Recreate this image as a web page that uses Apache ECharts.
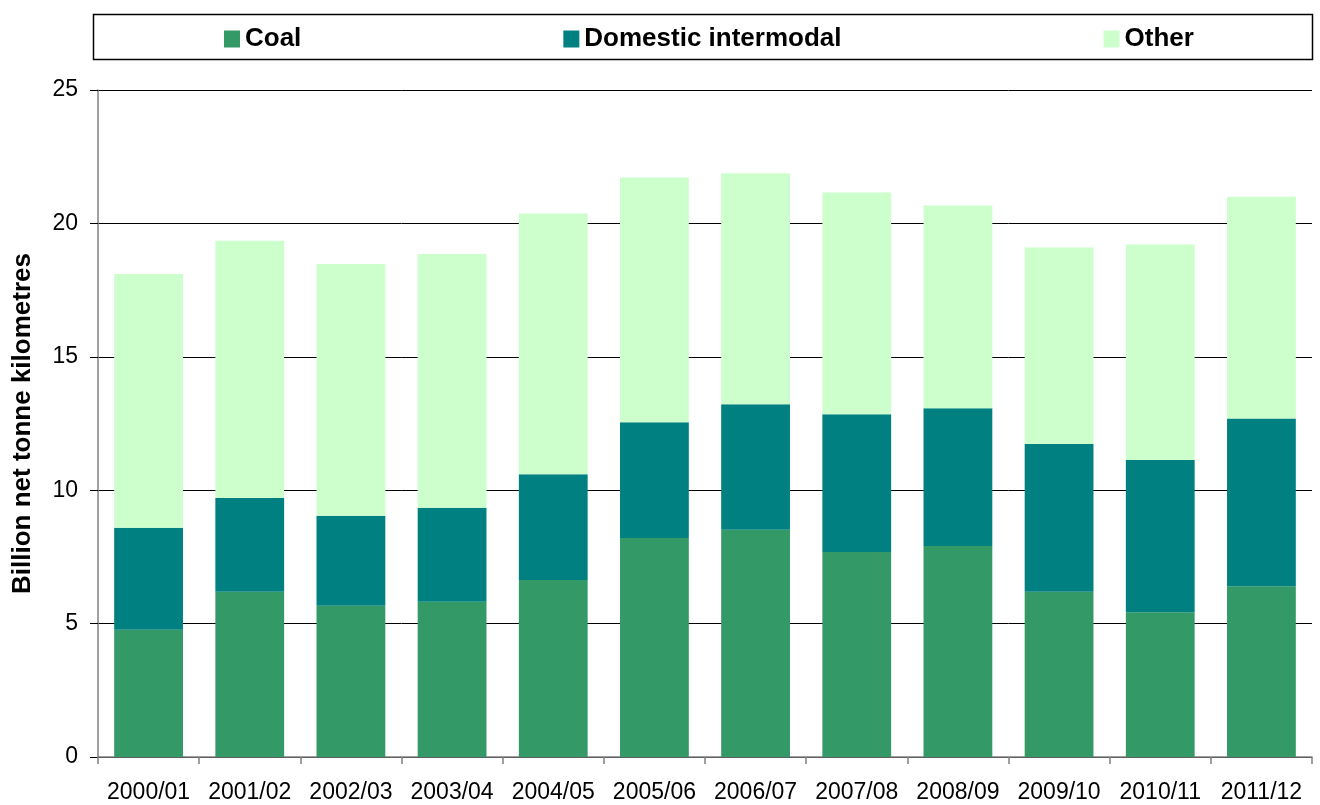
<!DOCTYPE html>
<html>
<head>
<meta charset="utf-8">
<script src="https://cdn.jsdelivr.net/npm/echarts@6/dist/echarts.min.js"></script>
<style>
  html, body { margin: 0; padding: 0; background: #fff; }
  #chart { width: 1320px; height: 805px; }
</style>
</head>
<body>
<div id="chart"></div>
<script>
const years = ["2000/01", "2001/02", "2002/03", "2003/04", "2004/05", "2005/06",
  "2006/07", "2007/08", "2008/09", "2009/10", "2010/11", "2011/12"];
const coal = [4.77, 6.19, 5.67, 5.82, 6.63, 8.21, 8.52, 7.68, 7.91, 6.19, 5.43, 6.40];
const intermodal = [3.82, 3.52, 3.37, 3.52, 3.97, 4.34, 4.70, 5.17, 5.16, 5.54, 5.70, 6.29];
const other = [9.51, 9.64, 9.44, 9.51, 9.77, 9.17, 8.66, 8.31, 7.60, 7.37, 8.08, 8.31];

const font = "'Liberation Sans', Arial, sans-serif";

let chart = echarts.init(document.getElementById("chart"), null, { renderer: "canvas" });

function barSeries(name, data, color) {
  return {
    name: name,
    type: "bar",
    stack: "total",
    barWidth: "68%",
    itemStyle: { color: color },
    data: data
  };
}

let option = {
  animation: false,
  backgroundColor: "#fff",
  graphic: [
    {
      type: "rect",
      left: 91,
      top: 12,
      shape: { width: 1219, height: 45 },
      style: { fill: "none", stroke: "#000", lineWidth: 1.5 }
    }
  ],
  legend: {
    left: 219,
    top: 21,
    itemWidth: 16,
    itemHeight: 17,
    itemGap: 262,
    icon: "rect",
    textStyle: {
      fontFamily: font,
      fontSize: 26,
      fontWeight: "bold",
      color: "#000"
    },
    data: ["Coal", "Domestic intermodal", "Other"]
  },
  grid: {
    left: 98,
    right: 8,
    top: 90,
    bottom: 48,
    containLabel: false,
    outerBoundsMode: "none"
  },
  xAxis: {
    type: "category",
    data: years,
    axisLine: { lineStyle: { color: "#808080", width: 1.5 } },
    axisTick: { show: true, length: 7, lineStyle: { color: "#808080", width: 1.5 } },
    axisLabel: {
      interval: 0,
      margin: 24,
      fontFamily: font,
      fontSize: 23,
      color: "#000"
    }
  },
  yAxis: {
    type: "value",
    min: 0,
    max: 25,
    interval: 5,
    name: "Billion net tonne kilometres",
    nameLocation: "middle",
    nameGap: 62,
    nameRotate: 90,
    nameTextStyle: {
      fontFamily: font,
      fontSize: 26,
      fontWeight: "bold",
      color: "#000"
    },
    axisLine: { show: true, lineStyle: { color: "#808080", width: 1.5 } },
    axisTick: { show: true, length: 8, lineStyle: { color: "#000" } },
    splitLine: { lineStyle: { color: "#000", width: 1 } },
    axisLabel: {
      margin: 20,
      fontFamily: font,
      fontSize: 23,
      color: "#000"
    }
  },
  series: [
    barSeries("Coal", coal, "#339966"),
    barSeries("Domestic intermodal", intermodal, "#008080"),
    barSeries("Other", other, "#CCFFCC")
  ]
};

chart.setOption(option);
</script>
</body>
</html>
